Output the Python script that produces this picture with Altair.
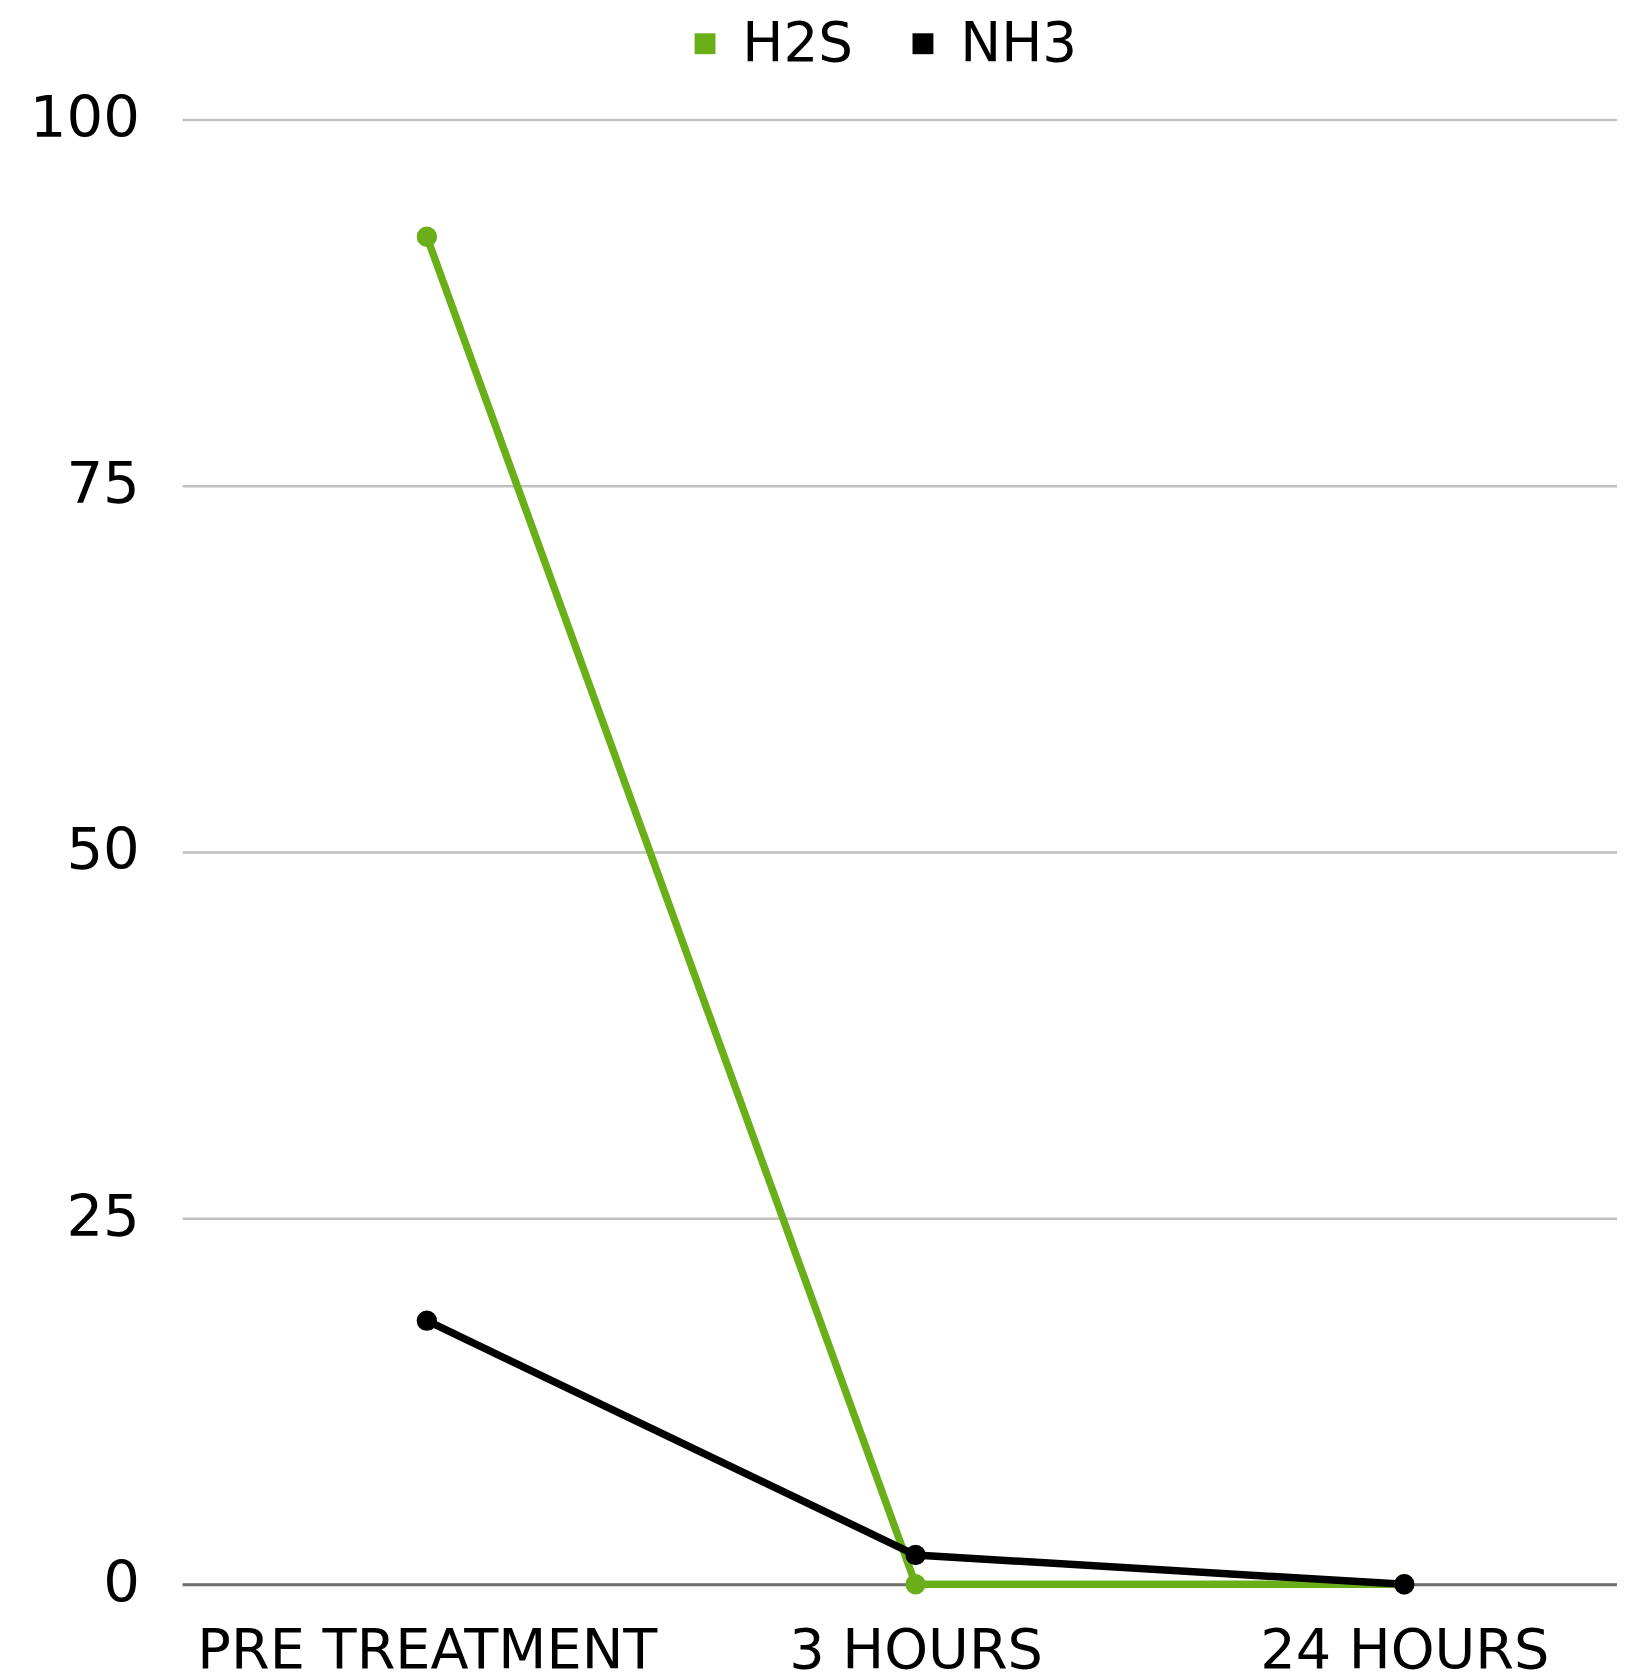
import altair as alt
import pandas as pd

categories = ["PRE TREATMENT", "3 HOURS", "24 HOURS"]
series_names = ["H2S", "NH3"]
h2s_values = [92, 0, 0]
nh3_values = [18, 2, 0]
y_ticks = [0, 25, 50, 75, 100]
colors = ["#6aaf1a", "#000000"]

rows = []
for c, v in zip(categories, h2s_values):
    rows.append({"time": c, "series": "H2S", "value": v})
for c, v in zip(categories, nh3_values):
    rows.append({"time": c, "series": "NH3", "value": v})
df = pd.DataFrame(rows)

FONT = "DejaVu Sans"

x_enc = alt.X("time:N", sort=categories, title=None,
              scale=alt.Scale(type="point", padding=0.468, align=0.535),
              axis=alt.Axis(labelAngle=0, labelFont=FONT, labelFontSize=56,
                            labelColor="#000000", ticks=False, tickSize=0,
                            labelLimit=2000, labelPadding=40,
                            domainColor="#707070", domainWidth=3, grid=False))
y_enc = alt.Y("value:Q", title=None,
              scale=alt.Scale(domain=[0, 100], nice=False, zero=True),
              axis=alt.Axis(values=y_ticks, labelFont=FONT, labelFontSize=58,
                            labelColor="#000000", ticks=False, domain=False,
                            labelLimit=2000, labelPadding=43,
                            gridColor="#c0c0c0", gridWidth=2.5))
color_enc = alt.Color("series:N", sort=series_names,
                      scale=alt.Scale(domain=series_names, range=colors),
                      legend=alt.Legend(title=None, orient="none",
                                        direction="horizontal",
                                        legendX=498, legendY=-104,
                                        symbolType="square", symbolSize=441,
                                        symbolStrokeWidth=0,
                                        labelFont=FONT, labelFontSize=55,
                                        labelColor="#000000", labelOffset=10,
                                        labelLimit=2000,
                                        columnPadding=42, padding=0))

base = alt.Chart(df)
lines = base.mark_line(strokeWidth=7.5).encode(x=x_enc, y=y_enc, color=color_enc)
points = base.mark_point(filled=True, size=420, opacity=1, shape="circle").encode(
    x=x_enc, y=y_enc, color=color_enc)

chart = alt.layer(lines, points).properties(
    width=1442, height=1472,
    background="#ffffff",
    padding={"left": 175, "top": 108, "right": 0, "bottom": 92},
    autosize=alt.AutoSizeParams(type="none"),
).configure_view(stroke=None, strokeWidth=0)

chart.save("out.html", embed_options={"renderer": "svg", "actions": False})
